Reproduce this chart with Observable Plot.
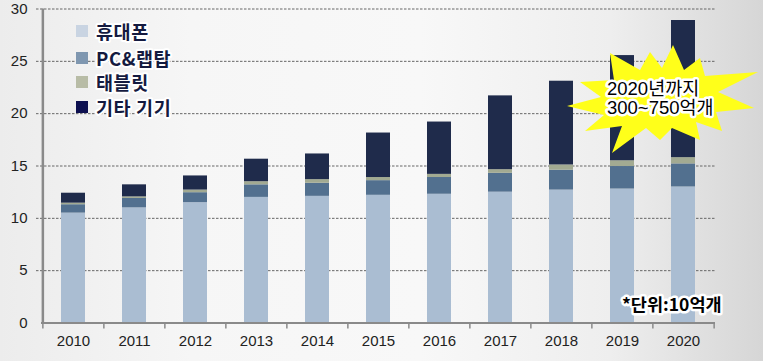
<!DOCTYPE html>
<html>
<head>
<meta charset="utf-8">
<script src="https://cdn.jsdelivr.net/npm/d3@7"></script>
<script src="https://cdn.jsdelivr.net/npm/@observablehq/plot@0.6"></script>
<style>
  html, body { margin: 0; padding: 0; }
  body {
    width: 763px; height: 361px; overflow: hidden;
    background: linear-gradient(90deg, #ececec 0%, #f6f6f6 25%, #f8f8f8 55%, #eeeeee 80%, #d6d6d6 100%);
  }
  #wrap { position: relative; width: 763px; height: 361px; }
  #wrap svg.plot { position: absolute; left: 0; top: 0; background: transparent; }
  #overlay { position: absolute; left: 0; top: 0; pointer-events: none; }
</style>
</head>
<body>
<div id="wrap"></div>
<script>
// ---- data ----
const years = ["2010","2011","2012","2013","2014","2015","2016","2017","2018","2019","2020"];
const series = ["휴대폰", "PC&랩탑", "태블릿", "기타 기기"];
const phone  = [10.5, 11.0, 11.5, 12.0, 12.1, 12.2, 12.3, 12.5, 12.7, 12.8, 13.0];
const pc     = [0.8, 0.9, 0.95, 1.2, 1.25, 1.4, 1.6, 1.8, 1.9, 2.15, 2.2];
const tablet = [0.15, 0.15, 0.25, 0.3, 0.35, 0.3, 0.3, 0.35, 0.5, 0.55, 0.6];
const other  = [0.95, 1.15, 1.35, 2.15, 2.45, 4.25, 5.0, 7.05, 8.0, 10.05, 13.1];
const yTicks = [0, 5, 10, 15, 20, 25, 30];
const calloutLines = ["2020년까지", "300~750억개"];
const unitNote = "*단위:10억개";

const barColors = ["#aabdd2", "#52708f", "#a2aa92", "#1f2b4b"];
const legendColors = ["#c9d4e2", "#7f97b0", "#b8bca6", "#0d1050"];

const values = [phone, pc, tablet, other];
const table = [];
series.forEach((s, si) => years.forEach((y, yi) => table.push({year: y, series: s, value: values[si][yi]})));

const W = 763, H = 361;
const mL = 41, mR = 48, mT = 8.5, mB = 38.5;
const step = (W - mL - mR) / years.length;

const chart = Plot.plot({
  width: W, height: H,
  marginLeft: mL, marginRight: mR, marginTop: mT, marginBottom: mB,
  style: {background: "transparent", fontFamily: "'Liberation Sans', Arial, sans-serif", fontSize: "15px", color: "#222"},
  x: {domain: years, paddingInner: 0.608, paddingOuter: 0.304, label: null},
  y: {domain: [0, 30], label: null},
  color: {domain: series, range: barColors},
  marks: [
    Plot.ruleY(yTicks.filter(d => d > 0), {y: d => d, stroke: "#666", strokeWidth: 1, strokeDasharray: "2.5,1.5", insetLeft: -5}),
    Plot.barY(table, {x: "year", y: "value", fill: "series", z: "series", order: series}),
    Plot.axisY({ticks: yTicks, tickSize: 0, tickPadding: 14, fontSize: 15, fill: "#222"}),
    Plot.axisX({tickSize: 0, tickPadding: 12, fontSize: 15, fill: "#222"}),
    // axis lines
    Plot.ruleY([0], {stroke: "#8a8a8a", strokeWidth: 2.2}),
    Plot.ruleX([years[0]], {x: d => d, y1: 0, y2: 30, dx: -step / 2, stroke: "#8a8a8a", strokeWidth: 2.5}),
    // category boundary ticks
    Plot.ruleX(years, {x: d => d, y1: 0, y2: 0, dx: -step / 2, insetBottom: -6, stroke: "#8a8a8a", strokeWidth: 1.5}),
    Plot.ruleX([years[years.length - 1]], {x: d => d, y1: 0, y2: 0, dx: step / 2, insetBottom: -6, stroke: "#8a8a8a", strokeWidth: 1.5})
  ]
});
chart.classList.add("plot");
document.getElementById("wrap").appendChild(chart);

// ---- overlay: legend, starburst callout, unit note ----
const ns = "http://www.w3.org/2000/svg";
const ov = document.createElementNS(ns, "svg");
ov.setAttribute("id", "overlay");
ov.setAttribute("width", W); ov.setAttribute("height", H);
document.getElementById("wrap").appendChild(ov);
function el(tag, attrs, text) {
  const e = document.createElementNS(ns, tag);
  for (const k in attrs) e.setAttribute(k, attrs[k]);
  if (text != null) e.textContent = text;
  ov.appendChild(e);
  return e;
}

// legend
const legendRows = [31, 58, 82, 107];
series.forEach((s, i) => {
  el("rect", {x: 76, y: legendRows[i] - 6, width: 12, height: 12, fill: legendColors[i]});
  el("text", {x: 96, y: legendRows[i], "dominant-baseline": "central",
    "font-family": "'Noto Sans CJK KR', sans-serif", "font-weight": 700, "font-size": 18.5,
    "letter-spacing": 0.6,
    fill: "#141a40", stroke: "#fff", "stroke-width": 4, "stroke-linejoin": "round", "paint-order": "stroke"}, s);
});

// starburst
const star = [
  [567,106],[601,97],[580,82],[614,80],[610,53],[640,70],[650,52],[662,68],[673,45],[684,70],
  [700,58],[705,76],[758,72],[718,92],[754,108],[716,112],[722,131],[696,122],[700,140],[672,128],
  [660,140],[646,128],[612,153],[622,126],[585,131],[604,115]
];
el("polygon", {points: star.map(p => p.join(",")).join(" "), fill: "#ffff1a"});
calloutLines.forEach((t, i) => {
  el("text", {x: 607, y: 88 + i * 19, "dominant-baseline": "central",
    "font-family": "'Liberation Sans', 'Noto Sans CJK KR', sans-serif", "font-weight": 400, "font-size": 18.5,
    fill: "#000", stroke: "#fff", "stroke-width": 5, "stroke-linejoin": "round", "paint-order": "stroke"}, t);
});

// unit note
el("text", {x: 622, y: 303, "dominant-baseline": "central",
  "font-family": "'Noto Sans CJK KR', sans-serif", "font-weight": 700, "font-size": 17.5,
  fill: "#000", stroke: "#fff", "stroke-width": 5, "stroke-linejoin": "round", "paint-order": "stroke"}, unitNote);
</script>
</body>
</html>
